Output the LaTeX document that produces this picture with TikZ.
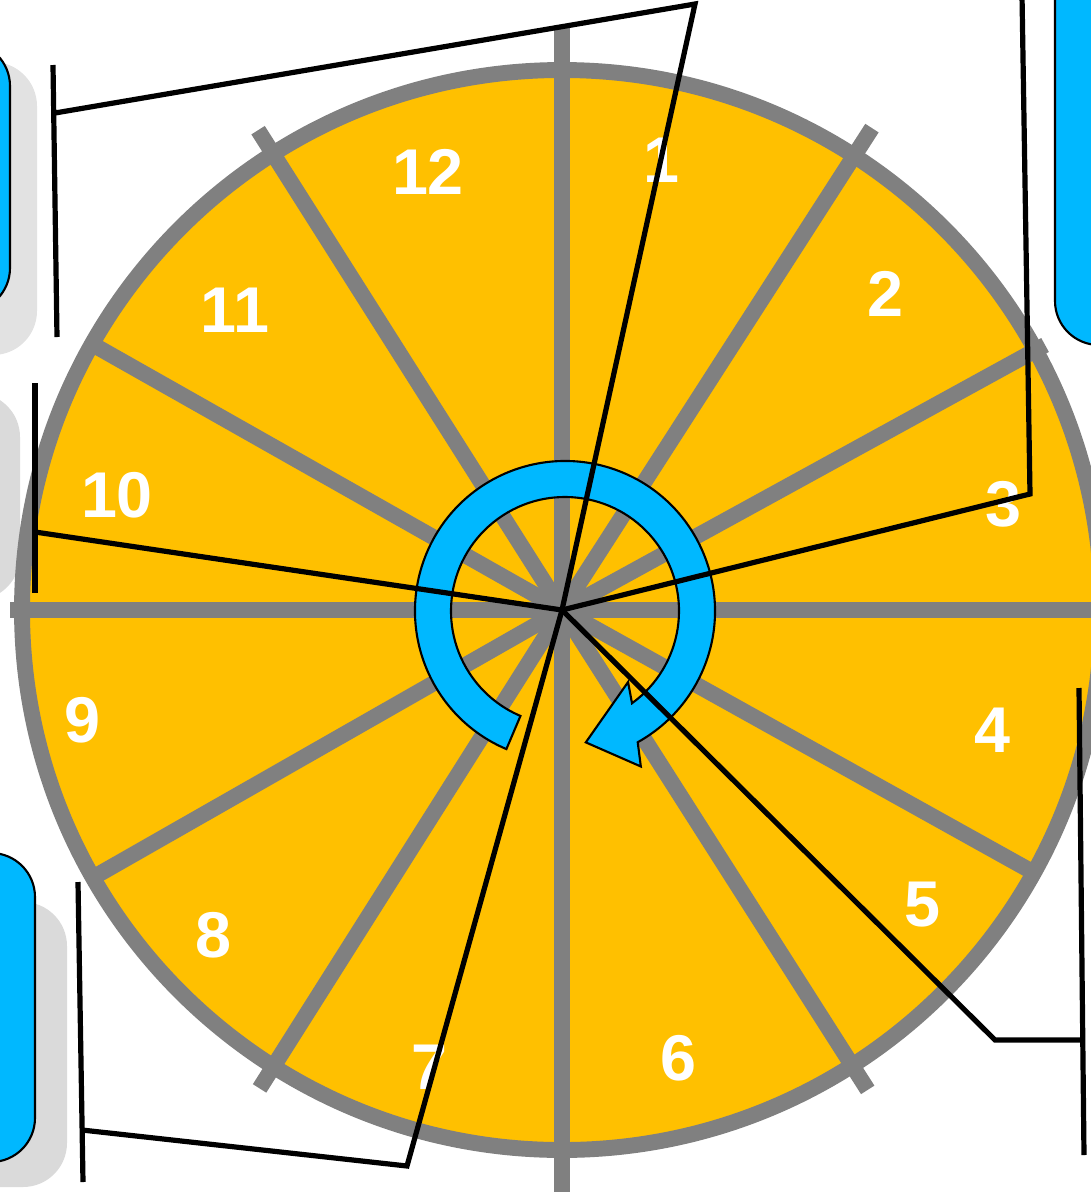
\documentclass[tikz,border=0pt]{standalone}
\usepackage{fontspec}
\setmainfont{Liberation Sans}
\usepackage{tikz}
\usetikzlibrary{calc}

\definecolor{dialyellow}{RGB}{255,192,0}
\definecolor{spokegray}{RGB}{128,128,128}
\definecolor{calloutblue}{RGB}{0,184,255}
\definecolor{shadowgray}{RGB}{218,218,218}
\definecolor{shadowlight}{RGB}{226,226,226}

\begin{document}
\begin{tikzpicture}[
  x=0.025cm, y=0.025cm,
  spoke/.style={draw=spokegray, line width=11.3pt},
  num/.style={text=white, font=\fontsize{46}{50}\selectfont\bfseries, inner sep=0pt},
  callout/.style={draw=black, line width=3.7pt, line join=miter},
  bluebox/.style={fill=calloutblue, draw=black, line width=1.5pt, rounded corners=1.1cm},
  shadowbox/.style={fill=shadowgray, rounded corners=1.1cm},
  turn/.style={fill=calloutblue, draw=black, line width=1.5pt, line join=miter}
]
\useasboundingbox (0,0) rectangle (1091,-1192);
\clip (0,0) rectangle (1091,-1192);

\coordinate (hub) at (562,-610);
\coordinate (pivot) at (565,-611);

% boxes the callouts point to
\fill[shadowbox, fill=shadowlight] (-100,-62) rectangle (37,-355);
\draw[bluebox] (-100,-42) rectangle (10,-312);
\fill[shadowbox] (-100,-393) rectangle (20,-600);
\fill[shadowbox] (-100,-902) rectangle (67,-1187);
\draw[bluebox] (-100,-853) rectangle (35,-1162);
\draw[bluebox] (1055,100) rectangle (1200,-345);

% dial
\fill[dialyellow] (hub) circle[radius=540];
\draw[spoke] (hub) -- ++(90:585);
\draw[spoke] (hub) -- ++(270:600);
\draw[spoke] (hub) -- ++(180:552);
\draw[spoke] (hub) -- ++(0:560);
\draw[spoke] (hub) -- ++(57.25:573);
\draw[spoke] (hub) -- ++(237.7:566);
\draw[spoke] (hub) -- ++(122.35:568);
\draw[spoke] (hub) -- ++(302.5:569);
\draw[spoke] (hub) -- ++(28.75:551);
\draw[spoke] (hub) -- ++(150.5:540);
\draw[spoke] (hub) -- ++(209.7:540);
\draw[spoke] (hub) -- ++(330.9:540);
\draw[spokegray, line width=11.3pt] (hub) circle[radius=540];

\node[num] (n12) at (428,-172) {12};
\node[num] (n1) at (661,-160) {1};
\node[num] (n2) at (885,-294) {2};
\node[num] (n3) at (1003,-504) {3};
\node[num] (n4) at (992,-730) {4};
\node[num] (n5) at (922,-905) {5};
\node[num] (n6) at (678,-1058) {6};
\node[num] (n7) at (429,-1067) {7};
\node[num] (n8) at (213,-935) {8};
\node[num] (n9) at (82,-720) {9};
\node[num] (n10) at (117,-495) {10};
\node[num] (n11) at (235,-310) {11};

% turning arrow
\draw[turn] ($(pivot)+(247:150)$) arc[start angle=247, end angle=-61, radius=150]
  -- ($(pivot)+(-64:173)$) -- ($(pivot)+(-81:133)$) -- ($(pivot)+(-48.4:95)$)
  -- ($(pivot)+(-54:114)$) arc[start angle=-54, end angle=247, radius=114] -- cycle;

% callout leaders
\coordinate (bar1a) at (53,-65);  \coordinate (bar1b) at (57,-337);
\coordinate (foot1) at (55,-113); \coordinate (knee1) at (695,-4);
\coordinate (bar2a) at (35,-383); \coordinate (bar2b) at (35,-593);
\coordinate (foot2) at (35,-532);
\coordinate (bar3a) at (1022,5);  \coordinate (foot3) at (1030,-494);
\coordinate (bar4a) at (1079,-688); \coordinate (bar4b) at (1084,-1155);
\coordinate (foot4) at (1081,-1040); \coordinate (knee4) at (995,-1040);
\coordinate (bar5a) at (78,-882); \coordinate (bar5b) at (83,-1182);
\coordinate (foot5) at (82,-1130); \coordinate (knee5) at (407,-1166);

\draw[callout] (bar1a) -- (bar1b);
\draw[callout] (foot1) -- (knee1) -- (hub);
\draw[callout] (bar2a) -- (bar2b);
\draw[callout] (foot2) -- (hub);
\draw[callout] (bar3a) -- (foot3) -- (hub);
\draw[callout] (bar4a) -- (bar4b);
\draw[callout] (foot4) -- (knee4) -- (hub);
\draw[callout] (bar5a) -- (bar5b);
\draw[callout] (foot5) -- (knee5) -- (hub);
\end{tikzpicture}
\end{document}
